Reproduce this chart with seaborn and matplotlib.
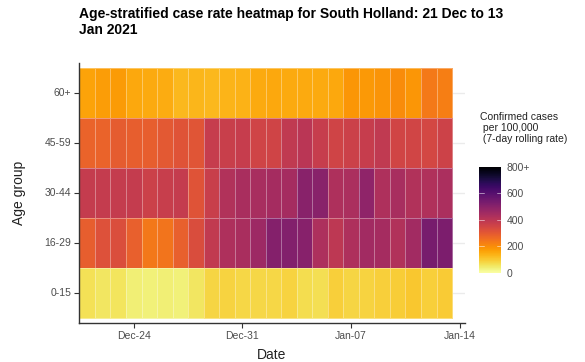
import numpy as np
import pandas as pd
import matplotlib
matplotlib.use("Agg")
import matplotlib.pyplot as plt
import seaborn as sns

# ---- data ----
dates = pd.date_range("2020-12-21", "2021-01-13", freq="D")
age_groups = ["60+", "45-59", "30-44", "16-29", "0-15"]
rate_60plus = [165, 172, 175, 155, 150, 148, 130, 132, 130, 135, 140, 150,
               155, 152, 152, 150, 155, 185, 180, 188, 200, 185, 235, 225]
rate_45_59 = [280, 280, 295, 290, 290, 300, 315, 312, 375, 370, 378, 355,
              355, 390, 400, 375, 355, 365, 375, 390, 350, 350, 345, 362]
rate_30_44 = [380, 380, 380, 380, 365, 372, 380, 315, 370, 420, 435, 440,
              445, 445, 500, 500, 425, 432, 490, 425, 440, 420, 422, 432]
rate_16_29 = [290, 320, 325, 285, 240, 245, 285, 330, 385, 425, 435, 460,
              510, 515, 505, 430, 395, 425, 450, 445, 420, 450, 535, 525]
rate_0_15 = [65, 55, 57, 40, 35, 38, 35, 55, 82, 85, 80, 80,
             80, 85, 70, 68, 92, 82, 85, 92, 95, 105, 92, 98]
tick_dates = pd.to_datetime(["2020-12-24", "2020-12-31", "2021-01-07", "2021-01-14"])
tick_labels = ["Dec-24", "Dec-31", "Jan-07", "Jan-14"]
cbar_ticks = [0, 200, 400, 600, 800]
cbar_labels = ["0", "200", "400", "600", "800+"]

df = pd.DataFrame([rate_60plus, rate_45_59, rate_30_44, rate_16_29, rate_0_15],
                  index=age_groups, columns=dates)

# ---- style ----
sns.set_theme(style="white")
plt.rcParams['font.family'] = ['Liberation Sans', 'DejaVu Sans']

fig = plt.figure(figsize=(5.85, 3.62), dpi=100)
ax = fig.add_axes([0.135, 0.1077, 0.66, 0.718])
cax = fig.add_axes([0.819, 0.246, 0.0376, 0.293])

sns.heatmap(df, ax=ax, cmap="inferno_r", vmin=0, vmax=800,
            linewidths=0.6, linecolor=(1, 1, 1, 0.35),
            cbar_ax=cax, cbar_kws=dict(ticks=cbar_ticks))

# axes limits and ticks
ax.set_xlim(-0.03, 24.84)
ax.set_ylim(5.1, -0.1)
xpos = [(d - dates[0]).days + 0.5 for d in tick_dates]
ax.set_xticks(xpos)
ax.set_xticklabels(tick_labels, rotation=0, fontsize=7.5, color="#4D4D4D")
ax.set_yticks(np.arange(len(age_groups)) + 0.5)
ax.set_yticklabels(age_groups, rotation=0, fontsize=7.5, color="#4D4D4D")
ax.tick_params(axis="both", which="major", length=3.5, width=0.8,
               color="#333333", pad=2, bottom=True, left=True)

for side in ["left", "bottom"]:
    ax.spines[side].set_visible(True)
    ax.spines[side].set_color("#333333")
    ax.spines[side].set_linewidth(1.0)
for side in ["top", "right"]:
    ax.spines[side].set_visible(False)

ax.set_axisbelow(True)
ax.yaxis.grid(True, color="#EBEBEB", linewidth=1.0)
ax.xaxis.grid(False)

ax.set_xlabel("Date", fontsize=10, color="#222222", labelpad=5)
ax.set_ylabel("Age group", fontsize=10, color="#222222", labelpad=13)

# colorbar
cax.set_yticks(cbar_ticks)
cax.set_yticklabels(cbar_labels, fontsize=7.5, color="#4D4D4D")
cax.tick_params(length=0, pad=4)
for s in cax.spines.values():
    s.set_visible(False)
for t in cbar_ticks[1:-1]:
    cax.plot([0, 0.2], [t, t], color="white", lw=0.6, alpha=0.6,
             transform=cax.get_yaxis_transform())
    cax.plot([0.8, 1.0], [t, t], color="white", lw=0.6, alpha=0.6,
             transform=cax.get_yaxis_transform())

fig.text(480 / 585, 1 - 112 / 362,
         "Confirmed cases\n per 100,000\n (7-day rolling rate)",
         fontsize=7.5, color="#222222", va="top", ha="left", linespacing=1.15)

fig.text(79 / 585, 1 - 7 / 362,
         "Age-stratified case rate heatmap for South Holland: 21 Dec to 13\nJan 2021",
         fontsize=10, fontweight="bold", color="black", va="top", ha="left",
         linespacing=1.15)

fig.savefig("out.png", dpi=100)
